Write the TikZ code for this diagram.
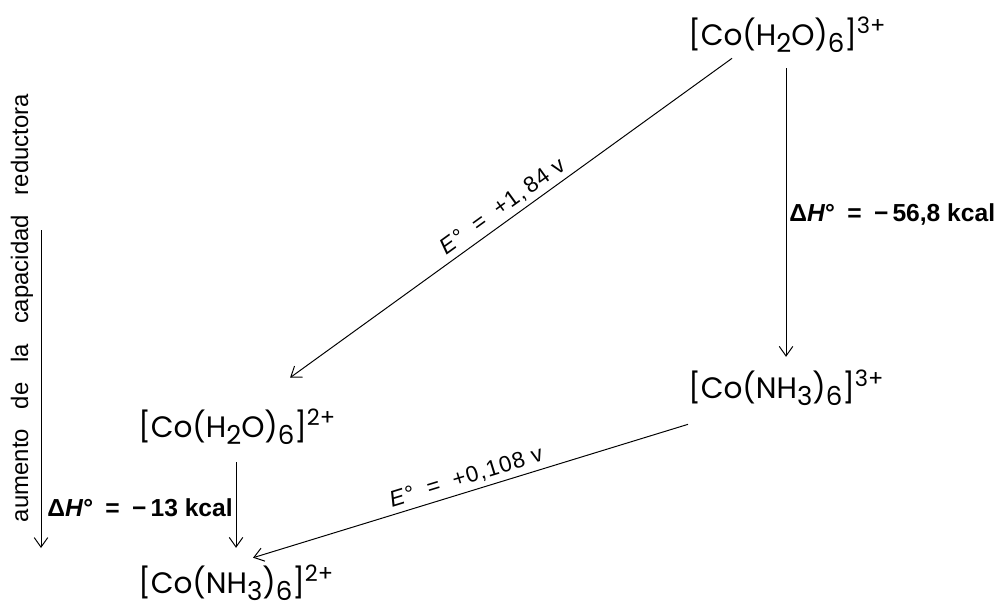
\documentclass[tikz,border=0pt]{standalone}
\usepackage{fontspec}
\setmainfont{Liberation Sans}
\newfontfamily\chemfont{Poppins}
\usetikzlibrary{arrows.meta}
\newcommand{\ind}[1]{\raisebox{-5.5pt}{\fontsize{18.5}{18}\selectfont #1}}
\newcommand{\carga}[1]{\raisebox{8.5pt}{\fontsize{16}{16}\selectfont #1}}

\begin{document}
\begin{tikzpicture}[x=0.025cm, y=-0.025cm, >={Straight Barb[length=2.4mm,width=3.4mm]},
    complejo/.style={font=\chemfont\fontsize{21}{26}\selectfont, inner sep=0pt,
      text height=16pt, text depth=6pt, anchor=base west},
    entalpia/.style={font=\bfseries\fontsize{17.5}{20}\selectfont, inner sep=2pt},
    potencial/.style={font=\fontsize{16}{19}\selectfont\addfontfeature{LetterSpace=5}, inner sep=3pt},
    flecha/.style={->, line width=0.7pt}]
    \useasboundingbox (0,0) rectangle (1003,606);

    % complejos de cobalto
    \node[complejo] (h2o3) at (688,45) {[Co(H\ind{2}O)\ind{6}]\carga{3+}};
    \node[complejo] (nh33) at (688,398) {[Co(NH\ind{3})\ind{6}]\carga{3+}};
    \node[complejo] (h2o2) at (138,437) {[Co(H\ind{2}O)\ind{6}]\carga{2+}};
    \node[complejo] (nh32) at (138,593) {[Co(NH\ind{3})\ind{6}]\carga{2+}};

    % entalpias (flechas verticales)
    \draw[flecha, shorten <=0.365cm, shorten >=0.46cm]
      ([xshift=2.45cm]h2o3.south west) -- ([xshift=2.45cm]nh33.north west)
      node[midway, right, entalpia] {Δ\textit{H}°\hspace{0.5em}=\hspace{0.5em}−\,56,8 kcal};
    \draw[flecha, shorten <=0.415cm, shorten >=0.56cm]
      ([xshift=2.45cm]h2o2.south west) -- ([xshift=2.45cm]nh32.north west)
      node[midway, left, entalpia] {Δ\textit{H}°\hspace{0.5em}=\hspace{0.5em}−\,13 kcal};

    % potenciales (flechas oblicuas)
    \draw[flecha] ([xshift=1.1cm, yshift=-0.115cm]h2o3.south west) -- ([xshift=3.8cm, yshift=0.9125cm]h2o2.north west)
      node[midway, above, sloped, potencial] {\textit{E}°\hspace{0.6em}=\hspace{0.6em}+1,\,84 v};
    \draw[flecha] ([yshift=-0.44cm]nh33.south west) -- ([xshift=2.875cm, yshift=0.3125cm]nh32.north west)
      node[midway, above, sloped, potencial] {\textit{E}°\hspace{0.6em}=\hspace{0.6em}+0,108 v};

    % eje de la capacidad reductora
    \node[rotate=90, font=\fontsize{17}{20}\selectfont] (aumento) at (22,308)
      {\makebox[10.7cm][s]{aumento de la capacidad reductora}};
    \coordinate (ejearriba) at (41,230);
    \coordinate (ejeabajo) at (41,548);
    \draw[flecha] (ejearriba) -- (ejeabajo);
\end{tikzpicture}
\end{document}
